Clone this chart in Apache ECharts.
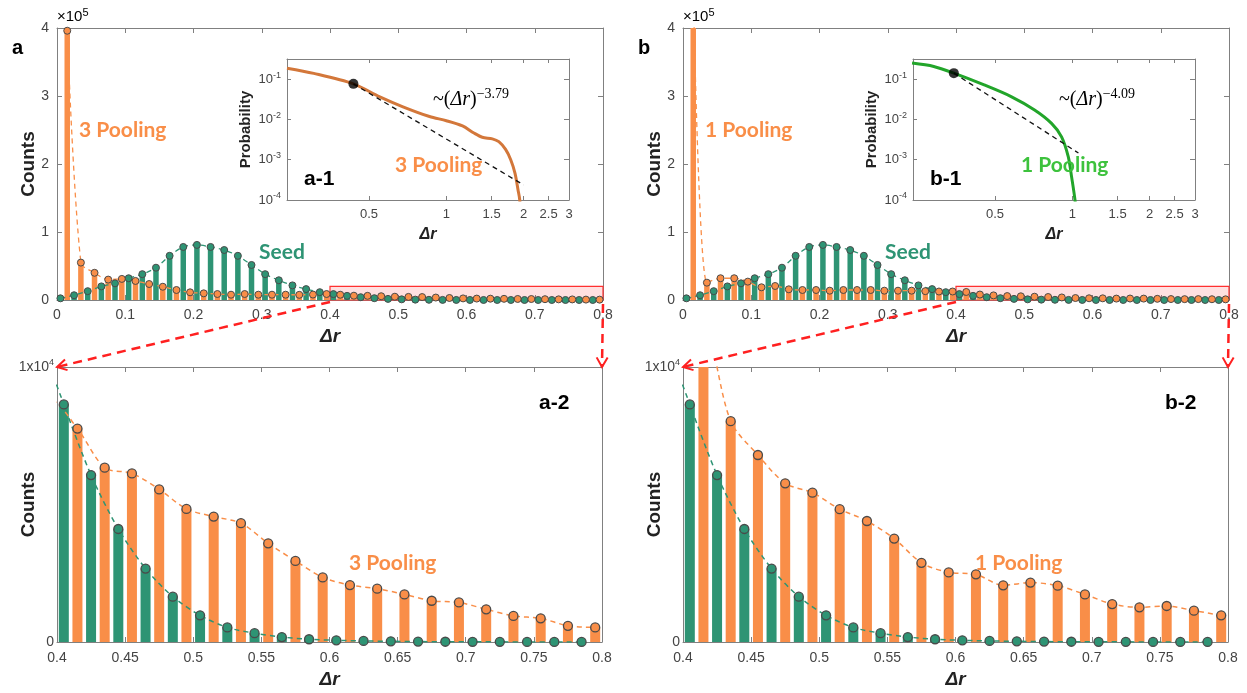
<!DOCTYPE html>
<html>
<head>
<meta charset="utf-8">
<script src="https://cdn.jsdelivr.net/npm/echarts@6/dist/echarts.min.js"></script>
<style>
html,body{margin:0;padding:0;background:#fff;}
#chart{width:1247px;height:693px;}
</style>
</head>
<body>
<div id="chart"></div>
<script>
// Histogram bin centres of the displacement Δr (bin width 0.02)
const binCenters = [0.01,0.03,0.05,0.07,0.09,0.11,0.13,0.15,0.17,0.19,
                    0.21,0.23,0.25,0.27,0.29,0.31,0.33,0.35,0.37,0.39,
                    0.41,0.43,0.45,0.47,0.49,0.51,0.53,0.55,0.57,0.59,
                    0.61,0.63,0.65,0.67,0.69,0.71,0.73,0.75,0.77,0.79];
// Counts per bin
const seedCounts  = [2500,7000,13000,20000,24500,32000,38000,47500,65000,78000,
                     81000,78000,73500,65000,51500,38000,29000,21500,16000,11500,
                     8640,6070,4110,2670,1650,970,530,320,180,100,
                     60,40,25,15,10,8,5,3,2,1];
const pool3Counts = [396000,55000,40000,30000,31000,28000,23500,19500,14700,11300,
                     9800,8800,7800,8800,7800,7800,7800,7600,8000,8800,
                     7760,6340,6130,5550,4840,4560,4320,3590,2950,2350,
                     2070,1940,1730,1500,1440,1190,950,860,590,530];
const pool1Counts = [460000,25500,32000,32000,27000,18700,20600,15700,14700,14700,
                     13700,14700,14700,14700,13700,13700,13700,13000,12500,12500,
                     11800,8030,6800,5770,5430,4830,4400,3760,2880,2530,
                     2460,2060,2160,2050,1730,1380,1260,1310,1140,970];
// Grouped-bar offset of each run inside a bin
const groupOffset = 0.005;

// Tail probability distributions (log-log insets)
const tail3Dr = [0.24,0.305,0.435,0.551,0.678,0.86,1.0,1.156,1.28,1.38,1.51,1.60,1.70,1.78,1.85,1.90,1.93,1.95];
const tail3P  = [0.187,0.139,0.0764,0.0363,0.0206,0.0118,0.0093,0.0069,0.0046,0.0036,0.0033,0.0028,0.0018,0.001,0.00046,0.00018,0.0001,0.00003];
const tail1Dr = [0.238,0.289,0.346,0.454,0.578,0.713,0.83,0.908,0.964,0.993,1.024,1.04];
const tail1P  = [0.25,0.206,0.141,0.072,0.037,0.0172,0.008,0.0037,0.00119,0.00038,0.0001,0.00003];
// Power-law fits: [start Δr, start P, end Δr] and exponent
const fit3 = [0.435, 0.0764, 2.0];
const fit3Exp = -3.79;
const fit1 = [0.346, 0.141, 1.056];
const fit1Exp = -4.09;

// Axis tick values
const insetXTicks = [0.5, 1, 1.5, 2, 2.5, 3];

const ORANGE = '#F98E48';
const GREEN = '#2E9474';
const EDGE = '#4a4a4a';
const AXIS = '#808080';
const TICKTXT = '#444';
const SANS = 'Liberation Sans, Arial, sans-serif';

const chart = echarts.init(document.getElementById('chart'));

function fitLine(f, e) {
  return [[f[0], f[1]], [f[2], f[1] * Math.pow(f[2] / f[0], e)]];
}
function expText(e) { return String(e).replace('-', '\u2212'); }

const grids = [], xAxes = [], yAxes = [], series = [];

function baseAxis(extra) {
  return Object.assign({
    axisLine: {show: true, onZero: false, lineStyle: {color: AXIS, width: 1}},
    axisTick: {show: true, inside: true, length: 5, lineStyle: {color: AXIS}},
    splitLine: {show: false},
    nameMoveOverlap: false,
    axisLabel: {color: TICKTXT, fontFamily: SANS, fontSize: 14}
  }, extra);
}

function addPanel(x0, pool, tailDr, tailP, fit, fitExp, tailColor) {
  const g = grids.length;
  // main histogram
  grids.push({left: x0, top: 28, width: 546, height: 272, containLabel: false});
  // inset
  grids.push({left: x0 + 230, top: 59, width: 282, height: 141, show: true,
              backgroundColor: '#fff', borderWidth: 0, z: 10});
  // zoomed tail
  grids.push({left: x0, top: 367, width: 545, height: 275});

  const sx = (v) => v.toFixed(1);
  const countsName = {name: 'Counts', nameLocation: 'middle', nameGap: 19, nameRotate: 90,
    nameTextStyle: {fontFamily: SANS, fontSize: 19, fontWeight: 'bold', color: '#222'}};
  // main panel axes
  xAxes.push(baseAxis({gridIndex: g, type: 'value', min: 0, max: 0.8, interval: 0.1,
    axisLabel: {color: TICKTXT, fontFamily: SANS, fontSize: 14, margin: 8,
      formatter: v => v === 0 ? '0' : sx(v)},
    name: '\u0394r', nameLocation: 'middle', nameGap: 27,
    nameTextStyle: {fontFamily: SANS, fontSize: 19, fontWeight: 'bold', fontStyle: 'italic', color: '#222'}}));
  xAxes.push(baseAxis({gridIndex: g, type: 'value', position: 'top', min: 0, max: 0.8, interval: 0.1,
    axisLabel: {show: false}}));
  yAxes.push(baseAxis(Object.assign({gridIndex: g, type: 'value', min: 0, max: 400000, interval: 100000,
    axisLabel: {color: TICKTXT, fontFamily: SANS, fontSize: 14, margin: 8, formatter: v => String(v / 100000)}},
    countsName)));
  yAxes.push(baseAxis({gridIndex: g, type: 'value', position: 'right', min: 0, max: 400000, interval: 100000,
    axisLabel: {show: false}}));

  // inset axes (log-log)
  xAxes.push(baseAxis({gridIndex: g + 1, type: 'log', logBase: 10, min: 0.24, max: 3, z: 11,
    axisLabel: {color: TICKTXT, fontFamily: SANS, fontSize: 13, margin: 8, customValues: insetXTicks},
    axisTick: {show: true, inside: true, length: 4, lineStyle: {color: AXIS}, customValues: insetXTicks},
    name: '\u0394r', nameLocation: 'middle', nameGap: 27,
    nameTextStyle: {fontFamily: SANS, fontSize: 16, fontWeight: 'bold', fontStyle: 'italic', color: '#222'}}));
  xAxes.push(baseAxis({gridIndex: g + 1, type: 'log', logBase: 10, min: 0.24, max: 3, position: 'top', z: 11,
    axisLabel: {show: false},
    axisTick: {show: true, inside: true, length: 4, lineStyle: {color: AXIS}, customValues: insetXTicks}}));
  const expFmt = v => {
    const l = Math.log10(v), e = Math.round(l);
    if (Math.abs(l - e) > 1e-6) return '';
    return '{b|10}{s|' + e + '}';
  };
  const supRich = {b: {fontFamily: SANS, fontSize: 13, color: TICKTXT},
                   s: {fontFamily: SANS, fontSize: 9, color: TICKTXT, padding: [0, 0, 8, 0]}};
  yAxes.push(baseAxis({gridIndex: g + 1, type: 'log', logBase: 10, min: 0.0001, max: Math.pow(10, -0.5), z: 11,
    axisLabel: {formatter: expFmt, rich: supRich, margin: 6},
    axisTick: {show: true, inside: true, length: 4, lineStyle: {color: AXIS}},
    name: 'Probability', nameLocation: 'middle', nameGap: 34, nameRotate: 90,
    nameTextStyle: {fontFamily: SANS, fontSize: 15, fontWeight: 'bold', color: '#222'}}));
  yAxes.push(baseAxis({gridIndex: g + 1, type: 'log', logBase: 10, min: 0.0001, max: Math.pow(10, -0.5),
    position: 'right', z: 11, axisLabel: {show: false}}));

  // zoomed tail axes
  xAxes.push(baseAxis({gridIndex: g + 2, type: 'value', min: 0.4, max: 0.8, interval: 0.05,
    axisLabel: {color: TICKTXT, fontFamily: SANS, fontSize: 14, margin: 9},
    name: '\u0394r', nameLocation: 'middle', nameGap: 28,
    nameTextStyle: {fontFamily: SANS, fontSize: 19, fontWeight: 'bold', fontStyle: 'italic', color: '#222'}}));
  xAxes.push(baseAxis({gridIndex: g + 2, type: 'value', position: 'top', min: 0.4, max: 0.8, interval: 0.05,
    axisLabel: {show: false}}));
  yAxes.push(baseAxis(Object.assign({gridIndex: g + 2, type: 'value', min: 0, max: 10000, interval: 10000,
    axisLabel: {margin: 3, formatter: v => v === 0 ? '{b|0}' : '{b|1x10}{s|4}',
      rich: {b: {fontFamily: SANS, fontSize: 14, color: TICKTXT},
             s: {fontFamily: SANS, fontSize: 9, color: TICKTXT, padding: [0, 0, 8, 0]}}}},
    countsName)));
  yAxes.push(baseAxis({gridIndex: g + 2, type: 'value', position: 'right', min: 0, max: 10000,
    interval: 10000, axisTick: {show: false}, axisLabel: {show: false}}));

  const seedXY = binCenters.map((c, i) => [c - groupOffset, seedCounts[i]]);
  const poolXY = binCenters.map((c, i) => [c + groupOffset, pool[i]]);
  // bars of the zoomed panel only cover its Δr window
  const inWindow = p => p[0] >= 0.4 && p[0] <= 0.8;

  const xa = g * 2, ya = g * 2;
  // main histogram series
  const barCommon = {type: 'bar', barGap: '-100%', z: 2, clip: true, silent: true};
  series.push(Object.assign({}, barCommon, {xAxisIndex: xa, yAxisIndex: ya, data: seedXY,
    barWidth: 5.5, itemStyle: {color: GREEN},
    markArea: {silent: true, itemStyle: {color: 'rgba(255,60,60,0.16)', borderColor: '#ff3030', borderWidth: 1.2},
      data: [[{xAxis: 0.4, yAxis: 0}, {xAxis: 0.8, yAxis: 20000}]]}}));
  series.push(Object.assign({}, barCommon, {xAxisIndex: xa, yAxisIndex: ya, data: poolXY,
    barWidth: 5.5, itemStyle: {color: ORANGE}}));
  const lineCommon = {type: 'line', smooth: 0.3, z: 3, clip: true, silent: true, symbol: 'circle'};
  series.push(Object.assign({}, lineCommon, {xAxisIndex: xa, yAxisIndex: ya, data: seedXY, symbolSize: 7,
    lineStyle: {color: GREEN, type: [5, 4], width: 1.3},
    itemStyle: {color: GREEN, borderColor: EDGE, borderWidth: 1}}));
  series.push(Object.assign({}, lineCommon, {xAxisIndex: xa, yAxisIndex: ya, data: poolXY, symbolSize: 7,
    lineStyle: {color: ORANGE, type: [5, 4], width: 1.3},
    itemStyle: {color: ORANGE, borderColor: EDGE, borderWidth: 1}}));

  // inset series
  series.push({type: 'line', xAxisIndex: xa + 2, yAxisIndex: ya + 2, z: 12, silent: true,
    data: tailDr.map((d, i) => [d, tailP[i]]), smooth: 0.3, symbol: 'none', clip: true,
    lineStyle: {color: tailColor, width: 3}});
  series.push({type: 'line', xAxisIndex: xa + 2, yAxisIndex: ya + 2, z: 13, silent: true,
    data: fitLine(fit, fitExp), symbol: 'none', clip: true,
    lineStyle: {color: '#111', width: 1.3, type: [5, 4]}});
  series.push({type: 'scatter', xAxisIndex: xa + 2, yAxisIndex: ya + 2, z: 14, silent: true,
    data: [[fit[0], fit[1]]], symbolSize: 10, itemStyle: {color: '#000'}});

  // zoomed tail series
  series.push(Object.assign({}, barCommon, {xAxisIndex: xa + 4, yAxisIndex: ya + 4, data: seedXY.filter(inWindow),
    barWidth: 10, itemStyle: {color: GREEN}}));
  series.push(Object.assign({}, barCommon, {xAxisIndex: xa + 4, yAxisIndex: ya + 4, data: poolXY.filter(inWindow),
    barWidth: 10, itemStyle: {color: ORANGE}}));
  series.push(Object.assign({}, lineCommon, {xAxisIndex: xa + 4, yAxisIndex: ya + 4, data: seedXY, symbolSize: 9,
    lineStyle: {color: GREEN, type: [5, 4], width: 1.5},
    itemStyle: {color: GREEN, borderColor: EDGE, borderWidth: 1.3}}));
  series.push(Object.assign({}, lineCommon, {xAxisIndex: xa + 4, yAxisIndex: ya + 4, data: poolXY, symbolSize: 9,
    lineStyle: {color: ORANGE, type: [5, 4], width: 1.5},
    itemStyle: {color: ORANGE, borderColor: EDGE, borderWidth: 1.3}}));
}

addPanel(57, pool3Counts, tail3Dr, tail3P, fit3, fit3Exp, '#D3773A');
addPanel(683, pool1Counts, tail1Dr, tail1P, fit1, fit1Exp, '#22A52A');

chart.setOption({
  animation: false,
  backgroundColor: '#fff',
  grid: grids,
  xAxis: xAxes,
  yAxis: yAxes,
  series: series
});

// Annotations
const LABEL = 'Liberation Sans, Arial, sans-serif';
const CALI = 'Lato, Open Sans, sans-serif';
function txt(x, y, text, style) {
  return {type: 'text', x: x, y: y, z: 100, silent: true,
    style: Object.assign({text: text, fontFamily: LABEL, verticalAlign: 'middle', textAlign: 'left'}, style)};
}
function richTxt(x, y, text, rich) {
  return {type: 'text', x: x, y: y, z: 100, silent: true,
    style: {text: text, rich: rich, verticalAlign: 'middle', textAlign: 'left'}};
}
const powRich = {
  n: {fontFamily: 'Liberation Serif, DejaVu Serif, serif', fontSize: 20, color: '#111'},
  i: {fontFamily: 'Liberation Serif, DejaVu Serif, serif', fontSize: 20, fontStyle: 'italic', color: '#111'},
  s: {fontFamily: 'Liberation Serif, DejaVu Serif, serif', fontSize: 14, color: '#111', padding: [0, 0, 12, 0]}
};
const x10Rich = {
  b: {fontFamily: LABEL, fontSize: 15, color: '#666'},
  s: {fontFamily: LABEL, fontSize: 11, color: '#666', padding: [0, 0, 9, 0]}
};

function panelGraphics(x0, tag, poolName, poolInsetColor, exp) {
  const d = x0 - 57;
  return [
    txt(12 + d, 48, tag, {fontSize: 20, fontWeight: 'bold', fill: '#000'}),
    richTxt(57 + d, 17, '{b|\u00d710}{s|5}', x10Rich),
    txt(79 + d, 130, poolName, {fontFamily: CALI, fontSize: 21, fontWeight: 'bold', fill: ORANGE}),
    txt(259 + d, 252, 'Seed', {fontFamily: CALI, fontSize: 21, fontWeight: 'bold', fill: GREEN}),
    richTxt(433 + d, 100, '{n|~(}{i|\u0394r}{n|)}{s|' + expText(exp) + '}', powRich),
    txt(395 + d, 165, poolName, {fontFamily: CALI, fontSize: 21, fontWeight: 'bold', fill: poolInsetColor}),
    txt(304 + d, 179, tag + '-1', {fontSize: 21, fontWeight: 'bold', fill: '#000'}),
    txt(539 + d, 403, tag + '-2', {fontSize: 21, fontWeight: 'bold', fill: '#000'}),
    txt(349 + d, 563, poolName, {fontFamily: CALI, fontSize: 21, fontWeight: 'bold', fill: ORANGE})
  ];
}

// Red dashed guides from the highlighted window to the zoomed panels
function arrow(p, q) {
  const ang = Math.atan2(q[1] - p[1], q[0] - p[0]);
  const L = 11, w = Math.PI / 6;
  const a1 = [q[0] - L * Math.cos(ang - w), q[1] - L * Math.sin(ang - w)];
  const a2 = [q[0] - L * Math.cos(ang + w), q[1] - L * Math.sin(ang + w)];
  return [
    {type: 'line', z: 90, silent: true, shape: {x1: p[0], y1: p[1], x2: q[0], y2: q[1]},
     style: {stroke: '#ff2020', lineWidth: 2.5, lineDash: [9, 6]}},
    {type: 'polyline', z: 90, silent: true, shape: {points: [a1, q, a2]},
     style: {stroke: '#ff2020', lineWidth: 2, fill: null}}
  ];
}

const graphics = [];
[[0, 57, 'a', '3 Pooling', ORANGE, fit3Exp], [1, 683, 'b', '1 Pooling', '#3DC23D', fit1Exp]].forEach(function (p) {
  const k = p[0] * 6;
  const a = chart.convertToPixel({xAxisIndex: k, yAxisIndex: k}, [0.4, 0]);
  const b = chart.convertToPixel({xAxisIndex: k, yAxisIndex: k}, [0.8, 0]);
  const c = chart.convertToPixel({xAxisIndex: k + 4, yAxisIndex: k + 4}, [0.4, 10000]);
  const e = chart.convertToPixel({xAxisIndex: k + 4, yAxisIndex: k + 4}, [0.8, 10000]);
  Array.prototype.push.apply(graphics, arrow([a[0], a[1] + 2], c));
  Array.prototype.push.apply(graphics, arrow([b[0], b[1] + 4], e));
  Array.prototype.push.apply(graphics, panelGraphics(p[1], p[2], p[3], p[4], p[5]));
});
chart.setOption({graphic: graphics});
</script>
</body>
</html>
